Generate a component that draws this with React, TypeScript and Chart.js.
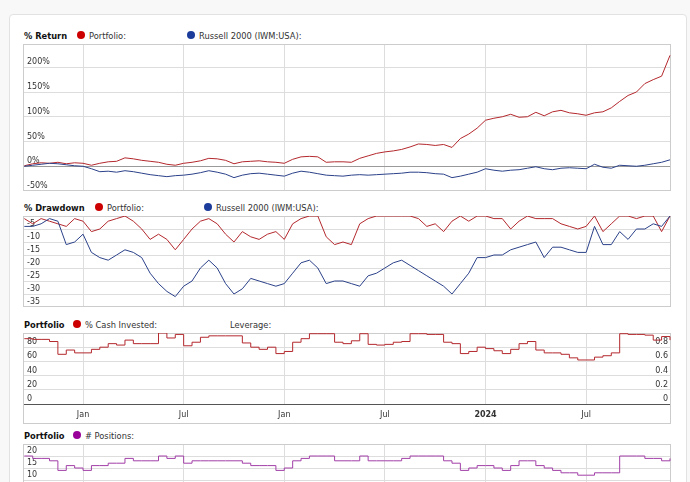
import React, { useEffect, useRef } from 'react';
import { Chart, registerables } from 'chart.js';
Chart.register(...registerables);

const FONT = "'DejaVu Sans', Verdana, sans-serif";

// x axis: months since Jan 2022, semi-monthly samples from mid-Sep 2021 to Dec 2024
const X_MIN = -3.58;
const X_MAX = 35.06;
const xTickValues = [0, 6, 12, 18, 24, 30];
const xTickLabels = ['Jan', 'Jul', 'Jan', 'Jul', '2024', 'Jul'];
const xMonths = Array.from({ length: 78 }, (_, i) => -3.5 + i * 0.5);

const portfolioReturn = [1, 5, 7, 6, 8, 5, 7, 6, 2, 6, 9, 10, 17, 15, 12, 10, 8, 4, 2, 6, 8, 11, 16, 15, 12, 5, 9, 10, 11, 9, 8, 6, 14, 19, 20, 19, 8, 9, 9, 8, 16, 21, 26, 29, 31, 34, 39, 45, 44, 42, 44, 38, 56, 65, 77, 93, 97, 100, 105, 99, 100, 109, 102, 110, 113, 108, 106, 103, 108, 110, 118, 131, 143, 150, 167, 175, 182, 224];
const russellReturn = [0, 2, 4, 6, 5, 3, 1, 0, -5, -11, -10, -12, -9, -11, -14, -17, -19, -21, -19, -18, -16, -13, -9, -12, -16, -23, -18, -15, -14, -16, -18, -20, -14, -10, -12, -15, -18, -19, -20, -18, -17, -18, -17, -16, -15, -14, -12, -12, -13, -15, -16, -23, -20, -16, -12, -5, -8, -10, -8, -7, -4, -1, -5, -7, -4, -3, -4, -5, 4, -2, -4, 2, 1, 0, 2, 5, 8, 13];
const portfolioDrawdown = [-1, -3, -1, -2, -3, -4, -1, -2, -6, -5, -2, -1, 0, -2, -5, -9, -7, -9, -13, -9, -5, -2, -1, -3, -7, -10, -6, -8, -9, -7, -6, -9, -3, -1, 0, 0, -8, -11, -10, -11, -3, -1, 0, 0, 0, 0, 0, -1, -4, -3, -6, -2, 0, -2, 0, 0, -1, -1, -5, -2, 0, -1, -1, -1, -3, -4, -5, -4, 0, -6, -3, 0, 0, -1, 0, 0, -6, 0];
const russellDrawdown = [-4, -4, -3, -1, -2, -11, -10, -7, -14, -16, -17, -15, -13, -14, -16, -22, -26, -29, -31, -27, -25, -20, -17, -20, -26, -30, -28, -24, -25, -26, -27, -26, -22, -18, -17, -20, -26, -25, -25, -26, -27, -23, -22, -20, -18, -17, -19, -21, -23, -25, -27, -30, -26, -22, -16, -16, -15, -15, -13, -12, -11, -10, -16, -12, -12, -13, -14, -14, -4, -11, -11, -6, -9, -5, -5, -3, -4, 0];
const cashInvested = [92, 91, 91, 88, 70, 76, 72, 72, 77, 80, 85, 83, 90, 85, 85, 85, 100, 93, 98, 82, 87, 94, 96, 96, 96, 96, 86, 80, 77, 80, 71, 74, 87, 92, 99, 99, 99, 87, 85, 89, 99, 84, 83, 84, 87, 88, 99, 99, 98, 98, 87, 85, 71, 74, 80, 78, 75, 71, 77, 85, 88, 76, 72, 72, 70, 65, 62, 62, 66, 68, 72, 99, 98, 98, 97, 90, 95, 90];
const positions = [20, 19, 19, 18, 14, 16, 15, 14, 16, 16, 17, 17, 19, 18, 18, 18, 20, 19, 20, 17, 18, 18, 18, 18, 18, 18, 17, 16, 16, 16, 14, 15, 18, 19, 20, 20, 20, 18, 18, 18, 20, 18, 18, 18, 18, 19, 20, 20, 20, 20, 18, 17, 14, 15, 16, 16, 15, 14, 16, 18, 18, 16, 15, 14, 13, 13, 12, 12, 13, 13, 13, 20, 20, 20, 19, 19, 18, 19];

const RED_LINE = '#b3282d';
const BLUE_LINE = '#2b4189';
const PURPLE_LINE = '#a23fa8';
const RED_DOT = '#cc0000';
const BLUE_DOT = '#1b3c9a';
const PURPLE_DOT = '#990099';
const GRID = '#dddddd';

const pts = (vals: number[]) => vals.map((y, i) => ({ x: xMonths[i], y }));

const framePlugin = {
  id: 'frame',
  beforeDatasetsDraw(chart: any, _args: any, opts: any) {
    const { left, top, right, bottom } = chart.chartArea;
    const b = opts && opts.full ? chart.height : bottom;
    const ctx = chart.ctx;
    ctx.save();
    ctx.strokeStyle = '#cccccc';
    ctx.lineWidth = 1;
    ctx.strokeRect(left + 0.5, top + 0.5, right - left - 1, b - top - 1);
    ctx.restore();
  },
};

const xScale = (showLabels: boolean) => ({
  type: 'linear',
  min: X_MIN,
  max: X_MAX,
  afterBuildTicks: (s: any) => {
    s.ticks = xTickValues.map((v) => ({ value: v }));
  },
  grid: { color: GRID, drawTicks: false },
  border: { display: false },
  ticks: {
    display: showLabels,
    autoSkip: false,
    maxRotation: 0,
    padding: 6,
    color: '#333',
    font: (c: any) => ({ family: FONT, size: 8, weight: c.index === 4 ? 'bold' : 'normal' }),
    callback: (v: number) => {
      const i = xTickValues.indexOf(v);
      return i >= 0 ? xTickLabels[i] : '';
    },
  },
  afterFit: (s: any) => {
    s.height = showLabels ? 20 : 0;
    s.paddingLeft = 0;
    s.paddingRight = 0;
  },
});

const yScale = (
  min: number,
  max: number,
  step: number,
  fmt: (v: number) => string,
  hidden: number[],
  zeroColor: string,
  position = 'left',
  showGrid = true,
  pad = 4
) => ({
  type: 'linear',
  position,
  min,
  max,
  afterBuildTicks: (s: any) => {
    s.ticks = s.ticks.filter((t: any) => Math.abs(t.value / step - Math.round(t.value / step)) < 1e-6);
  },
  grid: {
    display: showGrid,
    drawTicks: false,
    color: (c: any) => (c.tick && Math.abs(c.tick.value) < 1e-9 ? zeroColor : GRID),
  },
  border: { display: false },
  ticks: {
    mirror: true,
    autoSkip: false,
    padding: pad,
    labelOffset: -5,
    stepSize: step,
    color: '#333',
    font: { family: FONT, size: 8 },
    callback: (v: number) => (hidden.some((h) => Math.abs(h - v) < 1e-6) ? '' : fmt(v)),
  },
  afterFit: (s: any) => {
    s.width = 0;
    s.paddingTop = 0;
    s.paddingBottom = 0;
  },
});

const line = (data: number[], color: string, stepped = false) => ({
  data: pts(data),
  borderColor: color,
  borderWidth: 1,
  pointRadius: 0,
  tension: 0,
  stepped: stepped ? 'before' : false,
  fill: false,
});

const baseOptions = (scales: any, full = false) => ({
  responsive: true,
  maintainAspectRatio: false,
  animation: false,
  events: [],
  layout: { padding: 0 },
  plugins: { legend: { display: false }, tooltip: { enabled: false }, frame: { full } },
  scales,
});

const Dot = ({ x, y, color }: { x: number; y: number; color: string }) => (
  <div
    style={{
      position: 'absolute',
      left: x - 4,
      top: y - 4,
      width: 8,
      height: 8,
      borderRadius: '50%',
      background: color,
    }}
  />
);

const Txt = ({ x, y, text, bold }: { x: number; y: number; text: string; bold?: boolean }) => (
  <div
    style={{
      position: 'absolute',
      left: x,
      top: y - 6,
      height: 12,
      lineHeight: '12px',
      fontSize: 8.3,
      fontWeight: bold ? 'bold' : 'normal',
      color: bold ? '#111' : '#333',
      whiteSpace: 'nowrap',
    }}
  >
    {text}
  </div>
);

const Box = ({ x, y, w, h, children }: any) => (
  <div style={{ position: 'absolute', left: x, top: y, width: w, height: h }}>{children}</div>
);

export default function App() {
  const c1 = useRef<HTMLCanvasElement>(null);
  const c2 = useRef<HTMLCanvasElement>(null);
  const c3 = useRef<HTMLCanvasElement>(null);
  const c4 = useRef<HTMLCanvasElement>(null);

  useEffect(() => {
    const charts: Chart[] = [];
    charts.push(
      new Chart(c1.current as HTMLCanvasElement, {
        type: 'line',
        data: { datasets: [line(russellReturn, BLUE_LINE), line(portfolioReturn, RED_LINE)] } as any,
        options: baseOptions({
          x: xScale(false),
          y: yScale(-50, 247, 50, (v) => v + '%', [], '#9a9a9a'),
        }) as any,
        plugins: [framePlugin],
      })
    );
    charts.push(
      new Chart(c2.current as HTMLCanvasElement, {
        type: 'line',
        data: { datasets: [line(russellDrawdown, BLUE_LINE), line(portfolioDrawdown, RED_LINE)] } as any,
        options: baseOptions({
          x: xScale(false),
          y: yScale(-35, 0, 5, (v) => String(v), [0], GRID),
        }) as any,
        plugins: [framePlugin],
      })
    );
    charts.push(
      new Chart(c3.current as HTMLCanvasElement, {
        type: 'line',
        data: { datasets: [line(cashInvested, RED_LINE, true)] } as any,
        options: baseOptions(
          {
            x: xScale(true),
            y: yScale(0, 100, 20, (v) => String(v), [100], '#555555'),
            y1: yScale(0, 1, 0.2, (v) => String(Number(v.toFixed(1))), [1], GRID, 'right', false, -3),
          },
          true
        ) as any,
        plugins: [framePlugin],
      })
    );
    charts.push(
      new Chart(c4.current as HTMLCanvasElement, {
        type: 'line',
        data: { datasets: [line(positions, PURPLE_LINE, true)] } as any,
        options: baseOptions({
          x: xScale(false),
          y: yScale(5, 25, 5, (v) => String(v), [25], GRID),
        }) as any,
        plugins: [framePlugin],
      })
    );
    return () => charts.forEach((c) => c.destroy());
  }, []);

  return (
    <div
      style={{
        position: 'fixed',
        left: 0,
        top: 0,
        width: 690,
        height: 482,
        overflow: 'hidden',
        background: '#f8f8f8',
        fontFamily: FONT,
      }}
    >
      <div
        style={{
          position: 'absolute',
          left: 9,
          top: 14,
          width: 678,
          height: 520,
          border: '1px solid #e2e2e2',
          borderRadius: 4,
          background: '#ffffff',
          boxSizing: 'border-box',
        }}
      />

      <Txt x={24} y={36} text="% Return" bold />
      <Dot x={81} y={35} color={RED_DOT} />
      <Txt x={89} y={36} text="Portfolio:" />
      <Dot x={191} y={35} color={BLUE_DOT} />
      <Txt x={199} y={36} text="Russell 2000 (IWM:USA):" />

      <Txt x={24} y={208} text="% Drawdown" bold />
      <Dot x={99} y={207} color={RED_DOT} />
      <Txt x={107} y={208} text="Portfolio:" />
      <Dot x={208} y={207} color={BLUE_DOT} />
      <Txt x={216} y={208} text="Russell 2000 (IWM:USA):" />

      <Txt x={24} y={325} text="Portfolio" bold />
      <Dot x={77} y={324} color={RED_DOT} />
      <Txt x={85} y={325} text="% Cash Invested:" />
      <Txt x={230} y={325} text="Leverage:" />

      <Txt x={24} y={436} text="Portfolio" bold />
      <Dot x={77} y={435} color={PURPLE_DOT} />
      <Txt x={85} y={436} text="# Positions:" />

      <Box x={23} y={44} w={648} h={147}>
        <canvas ref={c1} />
      </Box>
      <Box x={23} y={216} w={648} h={91}>
        <canvas ref={c2} />
      </Box>
      <Box x={23} y={333} w={648} h={91}>
        <canvas ref={c3} />
      </Box>
      <Box x={23} y={444} w={648} h={48}>
        <canvas ref={c4} />
      </Box>
    </div>
  );
}
